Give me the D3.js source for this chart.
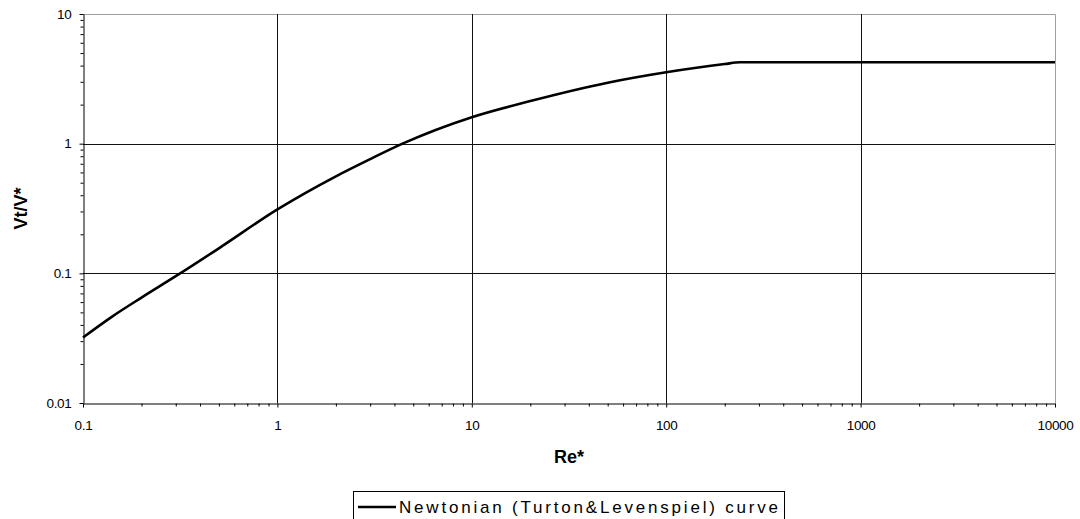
<!DOCTYPE html>
<html>
<head>
<meta charset="utf-8">
<script src="https://cdn.jsdelivr.net/npm/d3@7"></script>
<style>
  body { margin: 0; background: #fff; }
  text { font-family: Arial, "Liberation Sans", sans-serif; }
</style>
</head>
<body>
<div id="chart"></div>
<script>
// values
let reValues = [0.1, 0.14, 0.2, 0.31, 0.5, 1, 2, 3, 4.4, 10, 20, 50, 100, 200, 240, 10000]
let vtValues = [0.032, 0.046, 0.065, 0.098, 0.156, 0.311, 0.56, 0.76, 1.0, 1.6, 2.13, 2.95, 3.55, 4.11, 4.24, 4.24]
let xTickLabels = [0.1, 1, 10, 100, 1000, 10000]
let yTickLabels = [0.01, 0.1, 1, 10]
let seriesName = "Newtonian (Turton&Levenspiel) curve"

let chartWidth = 1080,
    chartHeight = 519,
    plotLeft = 83, plotRight = 1055, plotTop = 14, plotBottom = 403

let svg = d3.select("#chart")
  .append("svg")
    .attr("width", chartWidth)
    .attr("height", chartHeight)

let x = d3.scaleLog().domain([0.1, 10000]).range([plotLeft, plotRight])
let y = d3.scaleLog().domain([0.01, 10]).range([plotBottom, plotTop])

// all 1..9 multiples for minor ticks
let minorX = x.ticks().filter(d => xTickLabels.indexOf(d) < 0)
let minorY = y.ticks().filter(d => yTickLabels.indexOf(d) < 0)

// grey frame on top and right
svg.append("path")
  .attr("d", "M" + plotLeft + "," + (plotTop + 0.5) + "H" + (plotRight + 0.5) + "V" + plotBottom)
  .attr("fill", "none")
  .attr("stroke", "#a0a0a0")

// major gridlines
svg.selectAll(".vgrid")
  .data(xTickLabels.slice(1, -1))
  .enter().append("line")
    .attr("x1", d => Math.round(x(d)) + 0.5)
    .attr("x2", d => Math.round(x(d)) + 0.5)
    .attr("y1", plotTop)
    .attr("y2", plotBottom)
    .attr("stroke", "#111")

svg.selectAll(".hgrid")
  .data(yTickLabels.slice(1, -1))
  .enter().append("line")
    .attr("x1", plotLeft)
    .attr("x2", plotRight)
    .attr("y1", d => Math.round(y(d)) + 0.5)
    .attr("y2", d => Math.round(y(d)) + 0.5)
    .attr("stroke", "#111")

// axes
function styleAxis(g) {
  g.select(".domain").attr("stroke", "#000")
  g.selectAll(".tick line").attr("stroke", "#000")
  g.selectAll(".tick text")
    .attr("fill", "#000")
    .style("font-size", "13.5px")
    .style("letter-spacing", "-0.3px")
}

svg.append("g")
  .attr("transform", "translate(0," + (plotBottom + 0.5) + ")")
  .call(d3.axisBottom(x).tickValues(minorX).tickSize(3).tickSizeOuter(0).tickFormat(""))
  .call(styleAxis)

svg.append("g")
  .attr("transform", "translate(0," + (plotBottom + 0.5) + ")")
  .call(d3.axisBottom(x).tickValues(xTickLabels).tickSize(4).tickSizeOuter(0).tickPadding(13)
    .tickFormat(d => String(d)))
  .call(styleAxis)
  .call(g => g.select(".domain").remove())

svg.append("g")
  .attr("transform", "translate(" + (plotLeft + 0.5) + ",0)")
  .call(d3.axisLeft(y).tickValues(minorY).tickSize(3).tickSizeOuter(0).tickFormat(""))
  .call(styleAxis)

svg.append("g")
  .attr("transform", "translate(" + (plotLeft + 0.5) + ",0)")
  .call(d3.axisLeft(y).tickValues(yTickLabels).tickSize(4).tickSizeOuter(0).tickPadding(8)
    .tickFormat(d => String(d)))
  .call(styleAxis)
  .call(g => g.select(".domain").remove())

// axis titles
svg.append("text")
  .attr("x", (plotLeft + plotRight) / 2)
  .attr("y", 463)
  .attr("text-anchor", "middle")
  .style("font-size", "18px")
  .style("font-weight", "bold")
  .text("Re*")

svg.append("text")
  .attr("transform", "translate(27," + ((plotTop + plotBottom) / 2) + ") rotate(-90)")
  .attr("text-anchor", "middle")
  .style("font-size", "18px")
  .style("font-weight", "bold")
  .text("Vt/V*")

// the curve
let points = reValues.map((d, i) => [d, vtValues[i]])
let line = d3.line()
  .x(d => x(d[0]))
  .y(d => y(d[1]))
  .curve(d3.curveMonotoneX)

svg.append("path")
  .datum(points)
  .attr("d", line)
  .attr("fill", "none")
  .attr("stroke", "#000")
  .attr("stroke-width", 2.6)

// legend, cut off by the bottom edge
let legend = svg.append("g")
legend.append("rect")
  .attr("x", 353.5)
  .attr("y", 491.5)
  .attr("width", 431)
  .attr("height", 40)
  .attr("fill", "#fff")
  .attr("stroke", "#000")
legend.append("line")
  .attr("x1", 358)
  .attr("x2", 396)
  .attr("y1", 507)
  .attr("y2", 507)
  .attr("stroke", "#000")
  .attr("stroke-width", 2.6)
legend.append("text")
  .attr("x", 399)
  .attr("y", 513)
  .attr("textLength", 379)
  .attr("lengthAdjust", "spacing")
  .style("font-size", "17px")
  .text(seriesName)
</script>
</body>
</html>
